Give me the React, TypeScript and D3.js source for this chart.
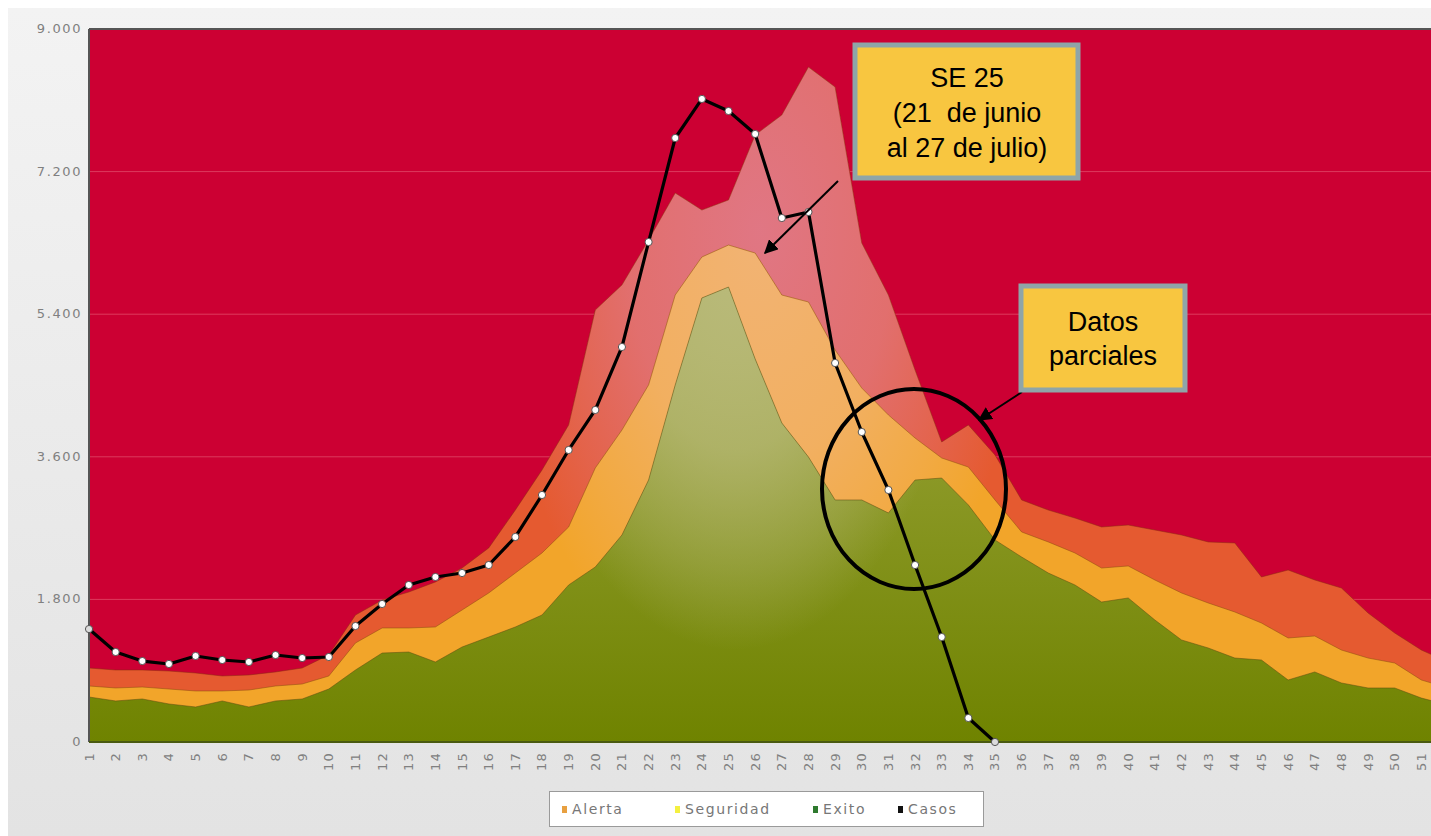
import React from 'react';
import * as d3 from 'd3';

const weeks = [1,2,3,4,5,6,7,8,9,10,11,12,13,14,15,16,17,18,19,20,21,22,23,24,25,26,27,28,29,30,31,32,33,34,35,36,37,38,39,40,41,42,43,44,45,46,47,48,49,50,51,52];

const exito = [568,518,543,480,442,518,442,518,543,669,909,1123,1136,1010,1199,1325,1452,1603,1982,2209,2613,3307,4507,5605,5743,4834,4027,3597,3055,3055,2891,3307,3332,2992,2550,2335,2133,1982,1767,1818,1540,1288,1187,1060,1035,783,884,745,682,682,555,467];

const seguridad = [707,682,694,669,644,644,656,707,732,833,1250,1439,1439,1452,1666,1881,2133,2386,2714,3459,3938,4507,5642,6122,6273,6172,5642,5554,4948,4468,4128,3837,3585,3471,3055,2651,2525,2386,2196,2222,2045,1881,1755,1641,1502,1313,1338,1161,1060,997,783,682];

const alerta = [934,909,909,896,871,833,846,884,934,1098,1603,1792,1893,2020,2196,2449,2929,3433,4002,5453,5769,6337,6930,6715,6842,7662,7915,8520,8268,6299,5642,4696,3787,4002,3623,3055,2928,2827,2714,2739,2676,2613,2525,2512,2083,2171,2045,1944,1628,1376,1161,1010];

const casos = [1426,1136,1022,985,1086,1035,1010,1098,1060,1073,1464,1742,1982,2083,2133,2234,2588,3118,3686,4191,4986,6311,7624,8117,7965,7675,6614,6690,4784,3913,3181,2234,1325,303,0];

const yTicks = [0,1800,3600,5400,7200,9000];
const xTickWeeks = weeks.slice(0, 51);

const legendLabels = ['Alerta','Seguridad','Exito','Casos'];
const legendColors = ['#e8a040','#f4f040','#2e7a2e','#111111'];

const note1 = ['SE 25','(21  de junio','al 27 de julio)'];
const note2 = ['Datos','parciales'];

const W = 1431, H = 836;
const x = d3.scaleLinear().domain([1, 52]).range([89, 89 + 51 * 26.647]);
const y = d3.scaleLinear().domain([0, 9000]).range([742, 29]);
const fmt = d3.formatLocale({ decimal: ',', thousands: '.', grouping: [3], currency: ['', ''] }).format(',');

function areaPath(vals: number[]) {
  return d3.area<number>().x((_, i) => x(weeks[i])).y0(y(0)).y1((d) => y(d))(vals) as string;
}

function Hl({ id, color, tf }: { id: string; color: string; tf: string }) {
  return (
    <radialGradient id={id} gradientUnits="userSpaceOnUse" cx="0" cy="0" r="1" gradientTransform={tf}>
      <stop offset="0" stopColor={color} stopOpacity="0.95" />
      <stop offset="0.5" stopColor={color} stopOpacity="0.7" />
      <stop offset="0.8" stopColor={color} stopOpacity="0.3" />
      <stop offset="1" stopColor={color} stopOpacity="0" />
    </radialGradient>
  );
}

export default function App() {
  const line = d3.line<number>().x((_, i) => x(weeks[i])).y((d) => y(d))(casos) as string;
  const lx = [562, 675, 813, 898];
  return (
    <svg width={W} height={H} style={{ position: 'absolute', left: 0, top: 0, display: 'block' }}>
      <defs>
        <linearGradient id="bg" x1="0" y1="0" x2="0" y2="1">
          <stop offset="0" stopColor="#f3f3f3" />
          <stop offset="1" stopColor="#e3e3e3" />
        </linearGradient>
        <linearGradient id="green" gradientUnits="userSpaceOnUse" x1="0" y1="350" x2="0" y2="742">
          <stop offset="0" stopColor="#98a238" />
          <stop offset="1" stopColor="#6f8300" />
        </linearGradient>
        <Hl id="hlA" color="#e07888" tf="translate(760,230) scale(270,470)" />
        <Hl id="hlS" color="#f2b478" tf="translate(760,230) scale(270,470)" />
        <Hl id="hlG" color="#bcbc80" tf="translate(735,250) scale(230,400)" />
        <clipPath id="plot">
          <rect x={x(1)} y={y(9000)} width={W - x(1)} height={y(0) - y(9000)} />
        </clipPath>
        <marker id="arr" viewBox="0 0 10 10" refX="9" refY="5" markerWidth="7" markerHeight="7" orient="auto">
          <path d="M0,0 L10,5 L0,10 z" fill="#000" />
        </marker>
      </defs>
      <rect x={0} y={0} width={W} height={H} fill="#ffffff" />
      <rect x={8} y={8} width={W - 8} height={H - 8} fill="url(#bg)" />

      <g clipPath="url(#plot)">
        <rect x={x(1)} y={y(9000)} width={W - x(1)} height={y(0) - y(9000)} fill="#cc0033" />
        {yTicks.filter((t) => t > 0 && t < 9000).map((t) => (
          <line key={t} x1={x(1)} x2={W} y1={y(t)} y2={y(t)} stroke="#e8607a" strokeOpacity={0.6} strokeWidth={1} />
        ))}
        <path d={areaPath(alerta)} fill="#e55a30" />
        <path d={areaPath(alerta)} fill="url(#hlA)" stroke="#8a2a10" strokeOpacity={0.5} strokeWidth={1} />
        <path d={areaPath(seguridad)} fill="#f2a52a" />
        <path d={areaPath(seguridad)} fill="url(#hlS)" stroke="#8a4a10" strokeOpacity={0.5} strokeWidth={1} />
        <path d={areaPath(exito)} fill="url(#green)" />
        <path d={areaPath(exito)} fill="url(#hlG)" stroke="#5a4a10" strokeOpacity={0.5} strokeWidth={1} />
      </g>

      <line x1={x(1)} x2={W} y1={y(9000)} y2={y(9000)} stroke="#555" strokeWidth={2} />
      <line x1={x(1)} x2={x(1)} y1={y(9000)} y2={y(0)} stroke="#555" strokeWidth={2} />
      <line x1={x(1)} x2={W} y1={y(0)} y2={y(0)} stroke="#4a5a10" strokeWidth={2} />

      {yTicks.map((t) => (
        <text key={t} x={82} y={y(t) + 4} textAnchor="end" fontFamily="DejaVu Sans" fontSize={13} letterSpacing={1.6} fill="#808080">
          {fmt(t)}
        </text>
      ))}
      {xTickWeeks.map((w) => (
        <text key={w} transform={`translate(${x(w) + 4.5},${752}) rotate(-90)`} textAnchor="end" fontFamily="DejaVu Sans" fontSize={13} letterSpacing={1.2} fill="#808080">
          {w}
        </text>
      ))}

      <path d={line} fill="none" stroke="#000" strokeWidth={3.2} strokeLinejoin="round" />
      {casos.map((c, i) => (
        <circle key={i} cx={x(weeks[i])} cy={y(c)} r={3.6} fill={i === 0 || i === casos.length - 1 ? '#dcdcdc' : '#ffffff'} stroke="#555" strokeWidth={1} />
      ))}

      <ellipse cx={914} cy={489} rx={92} ry={100} fill="none" stroke="#000" strokeWidth={4} />
      <line x1={838} y1={181} x2={765} y2={253} stroke="#000" strokeWidth={2} markerEnd="url(#arr)" />
      <line x1={1022} y1={392} x2={979} y2={420} stroke="#000" strokeWidth={2} markerEnd="url(#arr)" />

      <rect x={855} y={45} width={223} height={133} fill="#f8c640" stroke="#8fa5a8" strokeWidth={5} />
      {note1.map((t, i) => (
        <text key={i} x={967} y={87 + i * 35} textAnchor="middle" fontFamily="Liberation Sans, Arial" fontSize={27} fill="#000" style={{ whiteSpace: 'pre' }}>
          {t}
        </text>
      ))}
      <rect x={1021} y={286} width={164} height={104} fill="#f8c640" stroke="#8fa5a8" strokeWidth={5} />
      {note2.map((t, i) => (
        <text key={i} x={1103} y={331 + i * 34} textAnchor="middle" fontFamily="Liberation Sans, Arial" fontSize={27} fill="#000">
          {t}
        </text>
      ))}

      <rect x={549.5} y={791.5} width={434} height={35} fill="#ffffff" stroke="#9a9a9a" strokeWidth={1} />
      {legendLabels.map((l, i) => (
        <g key={l}>
          <rect x={lx[i]} y={806} width={5} height={7} fill={legendColors[i]} />
          <text x={lx[i] + 10} y={814} fontFamily="DejaVu Sans" fontSize={14} letterSpacing={1.6} fill="#777">
            {l}
          </text>
        </g>
      ))}
    </svg>
  );
}
